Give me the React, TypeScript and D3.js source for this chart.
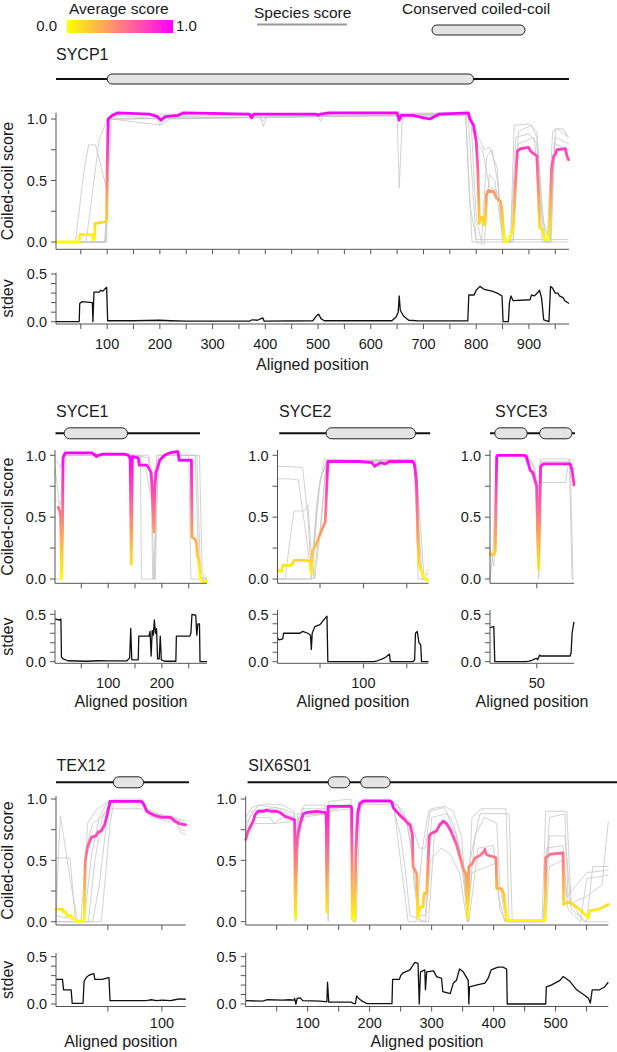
import * as d3 from 'd3';

type Pt = [number, number];

const FONT = '"Liberation Sans", Arial, Helvetica, sans-serif';
const LOW = '#ffff00';
const HIGH = '#ff00ff';
const GREY = '#c6c6c6';
const AXIS = '#555';

// ---------- SYCP1 ----------
const SYCP1_AVG: Pt[] = [
  [3, 0], [47, 0], [48, 0.06], [71, 0.06], [73, 0.02], [76, 0.02], [77, 0.15], [90, 0.16], [99, 0.17],
  [100, 0.6], [102, 1.0], [110, 1.03], [120, 1.05], [180, 1.04], [195, 1.02], [202, 0.99], [210, 1.02],
  [235, 1.03], [245, 1.05], [370, 1.04], [374, 1.01], [378, 1.04], [495, 1.04], [500, 1.03], [505, 1.04],
  [520, 1.05], [650, 1.05], [654, 0.99], [658, 1.03], [680, 1.03], [700, 1.01], [712, 1.0], [730, 1.04],
  [785, 1.05], [788, 1.0], [795, 0.95], [800, 0.82], [803, 0.6], [805, 0.3], [806, 0.15], [809, 0.2],
  [812, 0.2], [815, 0.14], [817, 0.15], [819, 0.38], [823, 0.42], [833, 0.41], [838, 0.36], [846, 0.33],
  [849, 0.25], [852, 0.08], [855, 0.0], [862, 0.02], [866, 0.06], [870, 0.1], [874, 0.45], [878, 0.74],
  [885, 0.76], [899, 0.77], [903, 0.74], [908, 0.72], [915, 0.7], [918, 0.4], [920, 0.12], [926, 0.1],
  [930, 0.02], [937, 0.02], [940, 0.2], [943, 0.6], [947, 0.7], [950, 0.71], [953, 0.75], [969, 0.76],
  [972, 0.7], [975, 0.67],
];
const SYCP1_SPECIES: Pt[][] = [
  [[3, 0], [40, 0], [55, 0.55], [65, 0.79], [78, 0.79], [98, 0.45], [104, 1.0], [120, 1.03], [195, 1.0],
    [200, 0.95], [210, 1.02], [390, 1.03], [396, 0.94], [405, 1.03], [650, 1.03], [654, 0.44], [660, 1.02],
    [780, 1.03], [792, 0.0], [975, 0.0]],
  [[3, 0], [60, 0], [85, 0.83], [100, 1.0], [120, 1.04], [380, 1.04], [395, 0.98], [405, 1.04], [780, 1.05],
    [800, 0.9], [815, 0.75], [825, 0.77], [840, 0.6], [850, 0.0], [870, 0.02], [880, 0.9], [905, 0.95],
    [915, 0.85], [925, 0.2], [935, 0.05], [945, 0.9], [955, 0.92], [975, 0.85]],
  [[3, 0], [95, 0], [100, 0.3], [108, 1.0], [200, 0.95], [220, 1.0], [780, 1.04], [790, 1.0], [800, 0.2],
    [810, 0.0], [820, 0.7], [830, 0.75], [840, 0.5], [850, 0.05], [865, 0], [875, 0.85], [900, 0.88],
    [915, 0.8], [925, 0], [940, 0], [950, 0.85], [975, 0.8]],
  [[3, 0], [98, 0], [104, 1.0], [780, 1.03], [785, 1.0], [800, 0.0], [815, -0.02], [825, 0.55], [835, 0.5],
    [848, 0.1], [855, 0], [870, 0], [880, 0.8], [910, 0.85], [920, 0.4], [930, 0], [940, 0], [948, 0.8],
    [975, 0.75]],
  [[3, 0], [97, 0], [102, 1.0], [500, 1.02], [505, 0.98], [510, 1.03], [785, 1.05], [800, 0.8], [812, 0.75],
    [825, 0.45], [838, 0.42], [848, 0.3], [855, 0], [865, 0], [872, 0.95], [900, 0.96], [915, 0.9],
    [925, 0.3], [932, 0], [942, 0], [950, 0.92], [965, 0.92], [975, 0.85]],
  [[3, 0], [99, 0], [103, 1.0], [780, 1.04], [788, 0.3], [800, 0.02], [975, 0.02]],
];
const SYCP1_STDEV: Pt[] = [
  [3, 0], [47, 0], [48, 0.19], [52, 0.21], [72, 0.2], [73, 0], [75, 0.31], [85, 0.31], [88, 0.33],
  [92, 0.32], [97, 0.35], [99, 0.36], [101, 0.01], [150, 0.01], [200, 0.015], [220, 0.01], [250, 0.005],
  [370, 0.005], [375, 0.02], [385, 0.015], [395, 0.04], [398, 0.005], [490, 0.01], [497, 0.06], [501, 0.08],
  [506, 0.03], [512, 0.01], [640, 0.01], [648, 0.05], [652, 0.1], [654, 0.27], [656, 0.12], [662, 0.06],
  [672, 0.015], [690, 0.008], [784, 0.008], [786, 0.28], [796, 0.28], [800, 0.33], [807, 0.37], [815, 0.34],
  [830, 0.32], [840, 0.3], [849, 0.27], [851, 0.0], [861, 0.0], [863, 0.2], [866, 0.27], [870, 0.22],
  [902, 0.23], [905, 0.28], [910, 0.27], [916, 0.3], [920, 0.33], [924, 0.25], [928, 0.02], [938, 0.0],
  [941, 0.37], [945, 0.35], [950, 0.3], [955, 0.3], [958, 0.27], [965, 0.25], [968, 0.22], [976, 0.19],
];
const SYCP1_SPAN: Pt = [3, 976];
const SYCP1_CC: Pt[] = [[100, 795]];
const SYCP1_TICKS = [50, 100, 150, 200, 250, 300, 350, 400, 450, 500, 550, 600, 650, 700, 750, 800, 850, 900, 950];
const SYCP1_LABELS = [100, 200, 300, 400, 500, 600, 700, 800, 900];

// ---------- SYCE1 ----------
const SYCE1_AVG: Pt[] = [
  [7, 0.58], [10, 0.55], [12, 0.5], [13, 0.0], [15, 0.4], [16, 0.98], [20, 1.02], [70, 1.02], [76, 1.0],
  [78, 0.99], [82, 1.0], [90, 1.01], [130, 1.01], [138, 1.0], [141, 0.97], [143, 0.12], [145, 0.99],
  [156, 0.98], [158, 0.92], [172, 0.92], [175, 0.9], [180, 0.86], [182, 0.72], [184, 0.5], [185, 0.38],
  [186, 0.6], [187, 0.75], [189, 0.86], [192, 0.9], [196, 0.96], [205, 1.0], [215, 1.02], [228, 1.03],
  [230, 1.03], [232, 0.96], [255, 0.96], [256, 0.34], [262, 0.32], [264, 0.3], [266, 0.18], [268, 0.17],
  [270, 0.1], [272, 0.0], [275, -0.02], [284, -0.02],
];
const SYCE1_SPECIES: Pt[][] = [
  [[1, 0.95], [5, 0.95], [12, 0.9], [16, 1.0], [140, 1.0], [143, 0.9], [146, 1.0], [160, 1.0], [162, 0.0],
    [185, 0.0], [190, 0.6], [195, 0.95], [205, 1.0], [250, 1.0], [254, 0.0], [284, 0.0]],
  [[1, 0.9], [8, 0.65], [14, 0.0], [17, 1.0], [150, 1.0], [160, 0.95], [170, 0.9], [182, 0.6], [185, 0.0],
    [188, 0.0], [192, 0.9], [200, 1.0], [265, 1.0], [272, 0.02], [284, 0.0]],
  [[1, 0.65], [12, 0.6], [16, 1.0], [140, 1.0], [143, 0.2], [146, 1.0], [175, 1.0], [180, 0.9], [184, 0.5],
    [187, 0.9], [195, 1.0], [262, 1.0], [268, 0.2], [275, 0.0], [284, 0]],
  [[1, 0.0], [14, 0.0], [17, 1.0], [150, 1.0], [175, 0.98], [180, 0.75], [183, 0.0], [186, 0.0], [190, 1.0],
    [270, 1.0], [275, 0.05], [284, 0]],
];
const SYCE1_STDEV: Pt[] = [
  [1, 0.45], [10, 0.44], [12, 0.45], [13, 0.05], [16, 0.03], [25, 0.01], [60, 0.005], [80, 0.01],
  [100, 0.008], [135, 0.01], [140, 0.04], [142, 0.35], [144, 0.02], [156, 0.02], [157, 0.27], [176, 0.27],
  [178, 0.32], [180, 0.06], [182, 0.33], [184, 0.28], [186, 0.44], [188, 0.3], [190, 0.35], [192, 0.03],
  [195, 0.03], [197, 0.27], [199, 0.02], [205, 0.005], [226, 0.005], [227, 0.27], [252, 0.27], [254, 0.3],
  [256, 0.5], [263, 0.49], [265, 0.28], [267, 0.4], [270, 0.4], [271, 0.0], [284, 0.0],
];
const SYCE1_SPAN: Pt = [2, 271];
const SYCE1_CC: Pt[] = [[18, 136]];
const SYCE1_TICKS = [50, 100, 150, 200, 250];
const SYCE1_LABELS = [100, 200];

// ---------- SYCE2 ----------
const SYCE2_AVG: Pt[] = [
  [1, 0.07], [6, 0.06], [7, 0.11], [17, 0.11], [20, 0.15], [35, 0.15], [38, 0.14], [39, 0.13], [40, 0.04],
  [41, 0.22], [45, 0.27], [50, 0.36], [54, 0.43], [56, 0.46], [59, 0.95], [95, 0.95], [110, 0.94],
  [113, 0.91], [117, 0.93], [120, 0.94], [125, 0.93], [130, 0.95], [157, 0.95], [159, 0.92], [161, 0.8],
  [162, 0.6], [163, 0.3], [164, 0.12], [166, 0.08], [169, 0.03], [171, 0.0], [174, -0.01],
];
const SYCE2_SPECIES: Pt[][] = [
  [[1, 0.91], [12, 0.91], [30, 0.9], [36, 0.5], [40, 0.05], [46, 0.6], [52, 0.85], [58, 0.96], [155, 0.96],
    [160, 0.9], [165, 0.1], [170, 0.02], [175, 0.08]],
  [[1, 0.81], [15, 0.81], [25, 0.8], [35, 0.3], [40, 0.0], [50, 0.8], [58, 0.95], [158, 0.95], [162, 0.3],
    [168, 0.0], [175, 0.0]],
  [[1, 0.0], [10, 0.0], [15, 0.3], [20, 0.55], [32, 0.55], [36, 0.6], [40, 0.2], [44, 0.0], [52, 0.5],
    [57, 0.95], [160, 0.97], [165, 0.5], [170, 0.0], [175, 0.05]],
  [[1, 0.0], [40, 0.0], [48, 0.7], [55, 0.97], [112, 0.95], [115, 0.92], [160, 0.95], [163, 0.0], [175, 0.0]],
  [[1, 0.0], [42, 0.0], [50, 0.4], [56, 0.85], [60, 0.96], [158, 0.96], [168, 0.0], [175, 0.0]],
];
const SYCE2_STDEV: Pt[] = [
  [1, 0.25], [3, 0.23], [7, 0.24], [8, 0.3], [27, 0.3], [30, 0.32], [36, 0.3], [39, 0.28], [40, 0.13],
  [41, 0.3], [44, 0.37], [50, 0.39], [55, 0.45], [58, 0.48], [59, 0.0], [112, 0.0], [116, 0.01], [122, 0.03],
  [126, 0.05], [130, 0.08], [131, 0.0], [157, 0.0], [159, 0.02], [160, 0.3], [162, 0.32], [164, 0.2],
  [166, 0.18], [167, 0.0], [175, 0.0],
];
const SYCE2_SPAN: Pt = [3, 177];
const SYCE2_CC: Pt[] = [[57, 160]];
const SYCE2_TICKS = [50, 100, 150];
const SYCE2_LABELS = [100];

// ---------- SYCE3 ----------
const SYCE3_AVG: Pt[] = [
  [1, 0.2], [5.5, 0.2], [6.5, 0.22], [8, 0.99], [9, 1.0], [37, 1.0], [39, 0.99], [41, 0.94], [43, 0.88],
  [46, 0.86], [48, 0.8], [50, 0.75], [51, 0.3], [52, 0.08], [53, 0.5], [54, 0.91], [57, 0.93], [85, 0.93],
  [87, 0.88], [89, 0.76],
];
const SYCE3_SPECIES: Pt[][] = [
  [[1, 0.0], [4, 0.2], [8, 1.0], [38, 1.0], [45, 0.95], [50, 0.8], [52, 0.3], [54, 0.97], [84, 0.97],
    [87, 0.0], [89, 0.0]],
  [[1, 0.2], [6, 0.2], [8, 1.0], [40, 1.0], [48, 0.9], [52, 0.0], [54, 0.78], [80, 0.78], [84, 0.97],
    [89, 0.95]],
  [[1, 0.25], [5, 0.1], [9, 1.0], [36, 1.0], [50, 0.75], [52, 0.2], [55, 0.95], [85, 0.95], [88, 0.0]],
];
const SYCE3_STDEV: Pt[] = [
  [1, 0.36], [5, 0.37], [6, 0.0], [39, 0.0], [42, 0.005], [45, 0.015], [48, 0.03], [50, 0.035], [51, 0.02],
  [53, 0.07], [54, 0.06], [85, 0.06], [86, 0.1], [87, 0.3], [89, 0.42],
];
const SYCE3_SPAN: Pt = [1, 90];
const SYCE3_CC: Pt[] = [[6, 40], [53, 87]];
const SYCE3_TICKS = [50];
const SYCE3_LABELS = [50];

// ---------- TEX12 ----------
const TEX12_AVG: Pt[] = [
  [2, 0.1], [8, 0.1], [9, 0.08], [11, 0.08], [12, 0.05], [16, 0.05], [17, 0.03], [18, 0.03], [20, 0.005],
  [28, 0.005], [29, 0.49], [31, 0.6], [33, 0.65], [35, 0.69], [39, 0.7], [41, 0.73], [44, 0.74], [47, 0.79],
  [49, 0.86], [50, 0.9], [52, 0.98], [81, 0.98], [83, 0.96], [86, 0.9], [90, 0.88], [95, 0.86], [100, 0.85],
  [108, 0.85], [112, 0.82], [116, 0.8], [122, 0.79],
];
const TEX12_SPECIES: Pt[][] = [
  [[2, 0.0], [4, 0.5], [6, 0.86], [9, 0.7], [12, 0.52], [15, 0.52], [20, 0.0], [28, 0.0], [35, 0.55],
    [42, 0.85], [50, 0.98], [80, 0.99], [86, 0.9], [110, 0.85], [118, 0.72], [122, 0.71]],
  [[2, 0.52], [12, 0.52], [16, 0.3], [22, 0.0], [32, 0.0], [38, 0.5], [45, 0.85], [52, 0.97], [82, 0.97],
    [90, 0.86], [114, 0.84], [122, 0.82]],
  [[2, 0.0], [25, 0.0], [30, 0.6], [36, 0.8], [44, 0.85], [50, 0.92], [82, 0.92], [90, 0.85], [115, 0.8],
    [122, 0.78]],
  [[2, 0.0], [36, 0.0], [42, 0.3], [48, 0.75], [53, 0.98], [80, 0.98], [86, 0.92], [112, 0.82], [118, 0.75],
    [122, 0.74]],
  [[2, 0.0], [44, 0.0], [52, 0.8], [56, 1.0], [82, 1.0], [88, 0.88], [110, 0.86], [122, 0.8]],
  [[2, 0.05], [28, 0.0], [31, 0.8], [40, 0.92], [52, 0.99], [82, 0.98], [90, 0.88], [116, 0.82], [122, 0.77]],
];
const TEX12_STDEV: Pt[] = [
  [2, 0.26], [8, 0.26], [9, 0.15], [16, 0.15], [17, 0.007], [27, 0.007], [28, 0.24], [30, 0.28], [32, 0.3],
  [34, 0.31], [37, 0.32], [38, 0.26], [45, 0.26], [48, 0.27], [51, 0.28], [52, 0.035], [85, 0.035],
  [88, 0.04], [90, 0.045], [95, 0.035], [100, 0.04], [108, 0.035], [112, 0.045], [116, 0.055], [122, 0.05],
];
const TEX12_SPAN: Pt = [2, 125];
const TEX12_CC: Pt[] = [[55, 83]];
const TEX12_TICKS = [50, 100];
const TEX12_LABELS = [100];

// ---------- SIX6OS1 ----------
const SIX6_AVG: Pt[] = [
  [0, 0.67], [3, 0.73], [7, 0.77], [12, 0.82], [15, 0.87], [20, 0.9], [30, 0.9], [33, 0.91], [42, 0.9],
  [50, 0.9], [55, 0.89], [63, 0.86], [71, 0.845], [79, 0.83], [80, 0.03], [81, 0.3], [83, 0.67], [85, 0.73],
  [88, 0.8], [93, 0.88], [98, 0.89], [114, 0.9], [128, 0.89], [130, 0.88], [131, 0.08], [132, 0.5],
  [133, 0.94], [170, 0.94], [171, 0.92], [172, 0.02], [176, 0.02], [178, 0.6], [181, 0.89], [184, 0.96],
  [190, 0.985], [233, 0.985], [236, 0.97], [238, 0.93], [243, 0.9], [250, 0.86], [257, 0.83], [262, 0.8],
  [265, 0.79], [269, 0.71], [270, 0.45], [276, 0.39], [278, 0.03], [281, 0.12], [286, 0.12], [288, 0.23],
  [292, 0.23], [296, 0.7], [300, 0.72], [308, 0.74], [313, 0.79], [319, 0.82], [324, 0.8], [330, 0.75],
  [335, 0.69], [340, 0.63], [346, 0.52], [351, 0.43], [356, 0.38], [358, 0.03], [360, 0.45], [365, 0.47],
  [370, 0.52], [378, 0.54], [384, 0.57], [386, 0.59], [388, 0.55], [391, 0.54], [399, 0.53], [404, 0.52],
  [405, 0.27], [413, 0.27], [416, 0.23], [421, 0.03], [422, 0.01], [483, 0.01], [484, 0.52], [491, 0.55],
  [512, 0.56], [513, 0.14], [520, 0.16], [528, 0.14], [539, 0.1], [547, 0.06], [553, 0.03], [555, 0.09],
  [569, 0.1], [577, 0.12], [585, 0.14],
];
const SIX6_SPECIES: Pt[][] = [
  [[0, 0.85], [10, 0.93], [30, 0.96], [60, 0.95], [78, 0.9], [80, 0.1], [83, 0.8], [95, 0.95], [128, 0.95],
    [131, 0.1], [134, 0.98], [170, 1.0], [172, 0.05], [176, 0.05], [182, 0.98], [238, 0.98], [262, 0.0],
    [275, 0.0], [285, 0.6], [295, 0.9], [320, 0.93], [335, 0.8], [350, 0.5], [358, 0.0], [365, 0.85],
    [380, 0.92], [420, 0.92], [425, 0.0], [480, 0.0], [490, 0.85], [515, 0.88], [520, 0.2], [545, 0.0],
    [585, 0.0]],
  [[0, 0.7], [15, 0.85], [40, 0.85], [45, 0.8], [78, 0.82], [81, 0.5], [85, 0.85], [128, 0.9], [131, 0.3],
    [135, 0.92], [170, 0.94], [173, 0.0], [178, 0.0], [185, 0.96], [245, 0.95], [260, 0.8], [270, 0.5],
    [278, 0.05], [290, 0.05], [300, 0.85], [325, 0.88], [345, 0.6], [358, 0.05], [370, 0.7], [385, 0.85],
    [405, 0.8], [410, 0.3], [420, 0.0], [480, 0.0], [486, 0.6], [512, 0.62], [518, 0.2], [550, 0.4],
    [585, 0.42]],
  [[0, 0.8], [20, 0.95], [60, 0.92], [79, 0.88], [81, 0.0], [83, 0.7], [90, 0.92], [130, 0.92], [133, 0.0],
    [136, 0.95], [172, 0.95], [174, 0.0], [178, 0.9], [190, 0.99], [240, 0.97], [255, 0.9], [265, 0.7],
    [272, 0.3], [280, 0.0], [295, 0.0], [305, 0.75], [320, 0.8], [340, 0.72], [355, 0.3], [360, 0.0],
    [375, 0.6], [400, 0.62], [408, 0.2], [418, 0.0], [482, 0.0], [490, 0.7], [515, 0.7], [525, 0.1],
    [550, 0.0], [560, 0.45], [585, 0.45]],
  [[0, 0.75], [10, 0.9], [50, 0.93], [78, 0.85], [80, 0.3], [84, 0.88], [130, 0.87], [132, 0.6], [135, 0.9],
    [168, 0.96], [172, 0.3], [176, 0.5], [183, 0.97], [240, 0.97], [258, 0.85], [268, 0.8], [280, 0.6],
    [290, 0.6], [298, 0.92], [322, 0.94], [335, 0.9], [348, 0.7], [356, 0.2], [362, 0.5], [378, 0.88],
    [425, 0.88], [430, 0.0], [478, 0.0], [484, 0.9], [518, 0.9], [525, 0.15], [548, 0.2], [575, 0.3],
    [585, 0.82]],
  [[0, 0.65], [12, 0.8], [45, 0.8], [60, 0.85], [79, 0.82], [81, 0.02], [84, 0.6], [92, 0.85], [130, 0.88],
    [132, 0.1], [134, 0.9], [171, 0.92], [173, 0.02], [180, 0.85], [190, 0.97], [236, 0.97], [250, 0.7],
    [258, 0.4], [265, 0.05], [290, 0.0], [298, 0.5], [315, 0.6], [330, 0.55], [345, 0.4], [357, 0.0],
    [365, 0.4], [390, 0.45], [405, 0.48], [410, 0.1], [420, 0.0], [484, 0.0], [490, 0.45], [512, 0.5],
    [520, 0.1], [540, 0.0], [550, 0.35], [585, 0.38]],
];
const SIX6_STDEV: Pt[] = [
  [0, 0.035], [27, 0.03], [30, 0.035], [35, 0.045], [60, 0.04], [70, 0.045], [78, 0.04], [79, 0.06],
  [81, 0.0], [83, 0.06], [88, 0.065], [92, 0.035], [120, 0.03], [128, 0.025], [131, 0.025], [132, 0.23],
  [134, 0.02], [170, 0.02], [174, 0.005], [177, 0.005], [179, 0.085], [182, 0.06], [188, 0.03], [196, 0.003],
  [236, 0.003], [237, 0.26], [248, 0.26], [250, 0.3], [254, 0.33], [265, 0.36], [270, 0.41], [273, 0.44],
  [278, 0.43], [280, 0.0], [282, 0.34], [289, 0.36], [290, 0.15], [292, 0.34], [303, 0.35], [308, 0.29],
  [316, 0.27], [318, 0.13], [330, 0.11], [335, 0.22], [340, 0.25], [345, 0.37], [351, 0.34], [359, 0.25],
  [360, 0.0], [361, 0.18], [372, 0.2], [386, 0.22], [391, 0.27], [396, 0.36], [407, 0.39], [415, 0.39],
  [421, 0.37], [422, 0.0], [484, 0.0], [485, 0.18], [493, 0.2], [507, 0.25], [512, 0.29], [523, 0.24],
  [534, 0.15], [545, 0.1], [553, 0.06], [556, 0.01], [559, 0.15], [571, 0.15], [579, 0.18], [585, 0.23],
];
const SIX6_SPAN: Pt = [3, 600];
const SIX6_CC: Pt[] = [[133, 168], [185.5, 233]];
const SIX6_TICKS = [50, 100, 150, 200, 250, 300, 350, 400, 450, 500, 550];
const SIX6_LABELS = [100, 200, 300, 400, 500];

const SCORE_TICKS = [0, 0.25, 0.5, 0.75, 1];
const SCORE_LABELS = [0, 0.5, 1];
const STDEV_TICKS = [0, 0.1, 0.2, 0.3, 0.4, 0.5];
const STDEV_LABELS = [0, 0.5];

// vertical layout for the three rows of panels
const ROWS = [
  { title: 60, dom: 79, capH: 10, sTop: 112.7, s1: 119, s0: 242, sBot: 249.3, dTop: 272.7, d5: 274, d0: 321.7, dBot: 324, tick: 349, xlab: 370 },
  { title: 417, dom: 433.3, capH: 11, sTop: 450, s1: 455.3, s0: 579, sBot: 583.3, dTop: 610, d5: 614.3, d0: 661.7, dBot: 663.3, tick: 688, xlab: 707 },
  { title: 771, dom: 782.3, capH: 11, sTop: 796, s1: 799, s0: 921.7, sBot: 925, dTop: 953, d5: 956.7, d0: 1004, dBot: 1006.5, tick: 1028, xlab: 1046.5 },
];

interface PanelDef {
  id: string;
  name: string;
  row: number;
  titleX: number;
  domain: Pt;
  range: Pt;
  avg: Pt[];
  species: Pt[][];
  stdev: Pt[];
  span: Pt;
  cc: Pt[];
  ticks: number[];
  labels: number[];
  yTitles: boolean;
}

const PANELS: PanelDef[] = [
  { id: 'sycp1', name: 'SYCP1', row: 0, titleX: 56, domain: [3, 976], range: [56, 569], avg: SYCP1_AVG, species: SYCP1_SPECIES, stdev: SYCP1_STDEV, span: SYCP1_SPAN, cc: SYCP1_CC, ticks: SYCP1_TICKS, labels: SYCP1_LABELS, yTitles: true },
  { id: 'syce1', name: 'SYCE1', row: 1, titleX: 56, domain: [1, 284], range: [55, 207], avg: SYCE1_AVG, species: SYCE1_SPECIES, stdev: SYCE1_STDEV, span: SYCE1_SPAN, cc: SYCE1_CC, ticks: SYCE1_TICKS, labels: SYCE1_LABELS, yTitles: true },
  { id: 'syce2', name: 'SYCE2', row: 1, titleX: 279, domain: [1, 175], range: [277.5, 428.5], avg: SYCE2_AVG, species: SYCE2_SPECIES, stdev: SYCE2_STDEV, span: SYCE2_SPAN, cc: SYCE2_CC, ticks: SYCE2_TICKS, labels: SYCE2_LABELS, yTitles: false },
  { id: 'syce3', name: 'SYCE3', row: 1, titleX: 495, domain: [1, 89], range: [490, 574], avg: SYCE3_AVG, species: SYCE3_SPECIES, stdev: SYCE3_STDEV, span: SYCE3_SPAN, cc: SYCE3_CC, ticks: SYCE3_TICKS, labels: SYCE3_LABELS, yTitles: false },
  { id: 'tex12', name: 'TEX12', row: 2, titleX: 56.5, domain: [2, 122], range: [56, 185.7], avg: TEX12_AVG, species: TEX12_SPECIES, stdev: TEX12_STDEV, span: TEX12_SPAN, cc: TEX12_CC, ticks: TEX12_TICKS, labels: TEX12_LABELS, yTitles: true },
  { id: 'six6', name: 'SIX6S01', row: 2, titleX: 248.3, domain: [0, 585], range: [245.7, 608.3], avg: SIX6_AVG, species: SIX6_SPECIES, stdev: SIX6_STDEV, span: SIX6_SPAN, cc: SIX6_CC, ticks: SIX6_TICKS, labels: SIX6_LABELS, yTitles: false },
];

function Capsule({ x0, x1, cy, h }: { x0: number; x1: number; cy: number; h: number }) {
  return (
    <rect x={x0} y={cy - h / 2} width={x1 - x0} height={h} rx={h / 2} ry={h / 2}
      fill="#e4e4e4" stroke="#222" strokeWidth={1} />
  );
}

function Panel({ p }: { p: PanelDef }) {
  const r = ROWS[p.row];
  const x = d3.scaleLinear().domain(p.domain).range(p.range);
  const ys = d3.scaleLinear().domain([0, 1]).range([r.s0, r.s1]);
  const yd = d3.scaleLinear().domain([0, 0.5]).range([r.d0, r.d5]);
  const lineS = d3.line<Pt>().x(d => x(d[0])).y(d => ys(d[1]));
  const lineD = d3.line<Pt>().x(d => x(d[0])).y(d => yd(d[1]));
  const [x0, x1] = p.range;
  const gid = `grad-${p.id}`;
  const fmt = d3.format('.1f');

  return (
    <g>
      <defs>
        {/* colour follows the score value, so a vertical gradient in user space does it */}
        <linearGradient id={gid} gradientUnits="userSpaceOnUse" x1={0} y1={ys(0)} x2={0} y2={ys(1)}>
          <stop offset="0" stopColor={LOW} />
          <stop offset="1" stopColor={HIGH} />
        </linearGradient>
      </defs>

      {/* protein name and domain diagram */}
      <text x={p.titleX} y={r.title} fontSize={16}>{p.name}</text>
      <line x1={x(p.span[0])} x2={x(p.span[1])} y1={r.dom} y2={r.dom} stroke="#111" strokeWidth={2} />
      {p.cc.map((c, i) => (
        <Capsule key={i} x0={x(c[0])} x1={x(c[1])} cy={r.dom} h={r.capH} />
      ))}

      {/* score panel */}
      {p.species.map((s, i) => (
        <path key={i} d={lineS(s) || ''} fill="none" stroke={GREY} strokeWidth={0.8} />
      ))}
      <path d={lineS(p.avg) || ''} fill="none" stroke={`url(#${gid})`} strokeWidth={2.8}
        strokeLinejoin="round" strokeLinecap="round" />
      <path d={`M${x0},${r.sTop}V${r.sBot}H${x1}`} fill="none" stroke={AXIS} strokeWidth={1} />
      {SCORE_TICKS.map(t => (
        <line key={t} x1={x0 - 5} x2={x0} y1={ys(t)} y2={ys(t)} stroke={AXIS} />
      ))}
      {SCORE_LABELS.map(t => (
        <text key={t} x={x0 - 9} y={ys(t)} dy="0.36em" textAnchor="end" fontSize={14.5}>{fmt(t)}</text>
      ))}
      {p.ticks.map(t => (
        <line key={t} x1={x(t)} x2={x(t)} y1={r.sBot} y2={r.sBot + 5} stroke={AXIS} />
      ))}

      {/* stdev panel */}
      <path d={lineD(p.stdev) || ''} fill="none" stroke="#111" strokeWidth={1.3} strokeLinejoin="round" />
      <path d={`M${x0},${r.dTop}V${r.dBot}H${x1}`} fill="none" stroke={AXIS} strokeWidth={1} />
      {STDEV_TICKS.map(t => (
        <line key={t} x1={x0 - 5} x2={x0} y1={yd(t)} y2={yd(t)} stroke={AXIS} />
      ))}
      {STDEV_LABELS.map(t => (
        <text key={t} x={x0 - 9} y={yd(t)} dy="0.36em" textAnchor="end" fontSize={14.5}>{fmt(t)}</text>
      ))}
      {p.ticks.map(t => (
        <line key={t} x1={x(t)} x2={x(t)} y1={r.dBot} y2={r.dBot + 5} stroke={AXIS} />
      ))}
      {p.labels.map(t => (
        <text key={t} x={x(t)} y={r.tick} textAnchor="middle" fontSize={14.5}>{t}</text>
      ))}
      <text x={(x0 + x1) / 2} y={r.xlab} textAnchor="middle" fontSize={16}>Aligned position</text>

      {p.yTitles && (
        <>
          <text transform={`translate(13,${(r.sTop + r.sBot) / 2}) rotate(-90)`} textAnchor="middle" fontSize={16}>
            Coiled-coil score
          </text>
          <text transform={`translate(13,${(r.dTop + r.dBot) / 2}) rotate(-90)`} textAnchor="middle" fontSize={16}>
            stdev
          </text>
        </>
      )}
    </g>
  );
}

function Legend() {
  return (
    <g>
      <defs>
        <linearGradient id="legend-grad" x1="0" y1="0" x2="1" y2="0">
          <stop offset="0" stopColor={LOW} />
          <stop offset="1" stopColor={HIGH} />
        </linearGradient>
      </defs>
      <text x={69} y={14} fontSize={15.5}>Average score</text>
      <text x={57} y={31} textAnchor="end" fontSize={15}>0.0</text>
      <rect x={67} y={20} width={106} height={13} fill="url(#legend-grad)" />
      <text x={176} y={31} fontSize={15}>1.0</text>

      <text x={254} y={18} fontSize={15.5}>Species score</text>
      <line x1={257} x2={347} y1={24.5} y2={24.5} stroke="#999" strokeWidth={2} />

      <text x={402} y={14} fontSize={15.5}>Conserved coiled-coil</text>
      <Capsule x0={432} x1={525} cy={30} h={10} />
    </g>
  );
}

export default function App() {
  return (
    <svg width={617} height={1052} viewBox="0 0 617 1052"
      style={{ position: 'absolute', left: 0, top: 0, background: '#fff' }}
      fontFamily={FONT} fill="#1a1a1a">
      <rect width={617} height={1052} fill="#fff" />
      <Legend />
      {PANELS.map(p => <Panel key={p.id} p={p} />)}
    </svg>
  );
}
